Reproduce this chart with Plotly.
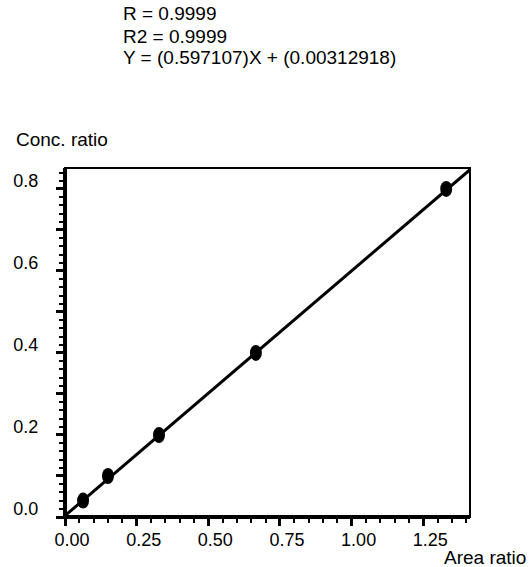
import plotly.graph_objects as go

# Calibration standards: area ratio (x) vs concentration ratio (y)
area_ratio = [0.063, 0.150, 0.328, 0.666, 1.330]
conc_ratio = [0.04, 0.10, 0.20, 0.40, 0.80]

# Linear regression results
slope = 0.597107
intercept = 0.00312918
r_value = "0.9999"
r2_value = "0.9999"

x_ticks = [0.0, 0.25, 0.50, 0.75, 1.00, 1.25]
x_tick_text = ["0.00", "0.25", "0.50", "0.75", "1.00", "1.25"]
y_ticks = [0.0, 0.1, 0.2, 0.3, 0.4, 0.5, 0.6, 0.7, 0.8]
y_tick_text = ["0.0", "", "0.2", "", "0.4", "", "0.6", "", "0.8"]

X_MAX = 1.413
Y_MAX = 0.851

W, H = 529, 567
ML, MR, MT, MB = 65, 59, 168, 50
PW, PH = W - ML - MR, H - MT - MB

FONT = "Liberation Sans, Arial, sans-serif"


def px_x(px):
    return (px - ML) / PW


def px_y(py):
    return (H - MB - py) / PH


fig = go.Figure()

# Fitted line across the full x range
fit_x = [0.0, X_MAX]
fit_y = [slope * v + intercept for v in fit_x]
fig.add_trace(go.Scatter(x=fit_x, y=fit_y, mode="lines",
                         line=dict(color="black", width=3),
                         hoverinfo="skip", showlegend=False))

# Invisible point trace for hover
fig.add_trace(go.Scatter(x=area_ratio, y=conc_ratio, mode="markers",
                         marker=dict(size=12, color="rgba(0,0,0,0)"),
                         showlegend=False))

shapes = []
# Elliptical markers anchored at each data point
for xv, yv in zip(area_ratio, conc_ratio):
    shapes.append(dict(type="circle", xref="x", yref="y",
                       xsizemode="pixel", ysizemode="pixel",
                       xanchor=xv, yanchor=yv,
                       x0=-6, x1=6, y0=-8, y1=8,
                       fillcolor="black", line=dict(color="black", width=0)))

# Frame: thin box with heavier left and bottom axes
shapes.append(dict(type="rect", xref="paper", yref="paper",
                   x0=0, x1=1, y0=0, y1=1,
                   line=dict(color="black", width=2)))
shapes.append(dict(type="line", xref="paper", yref="paper",
                   x0=0, x1=0, y0=0, y1=1,
                   line=dict(color="black", width=4)))
shapes.append(dict(type="line", xref="paper", yref="paper",
                   x0=0, x1=1, y0=0, y1=0,
                   line=dict(color="black", width=4)))

annotations = []
for text, ypx in [(f"R = {r_value}", 13),
                  (f"R2 = {r2_value}", 36),
                  (f"Y = ({slope})X + ({intercept})", 58)]:
    annotations.append(dict(text=text, xref="paper", yref="paper",
                            x=px_x(121), y=px_y(ypx), xanchor="left",
                            yanchor="middle", showarrow=False,
                            font=dict(family=FONT, size=19, color="black")))
annotations.append(dict(text="Conc. ratio", xref="paper", yref="paper",
                        x=px_x(14), y=px_y(140), xanchor="left",
                        yanchor="middle", showarrow=False,
                        font=dict(family=FONT, size=19, color="black")))
annotations.append(dict(text="Area ratio", xref="paper", yref="paper",
                        x=px_x(528), y=px_y(557), xanchor="right",
                        yanchor="middle", showarrow=False,
                        font=dict(family=FONT, size=19, color="black")))

fig.update_layout(
    width=W, height=H,
    margin=dict(l=ML, r=MR, t=MT, b=MB, pad=0),
    paper_bgcolor="white", plot_bgcolor="white",
    showlegend=False,
    shapes=shapes,
    annotations=annotations,
    font=dict(family=FONT, size=18, color="black"),
    xaxis=dict(range=[0, X_MAX], showgrid=False, zeroline=False,
               showline=False, tickmode="array", tickvals=x_ticks,
               ticktext=x_tick_text, ticks="outside", ticklen=8,
               tickwidth=3, tickcolor="black", ticklabelshift=7,
               ticklabelstandoff=-2,
               minor=dict(dtick=0.05, tick0=0, ticks="outside", ticklen=5,
                          tickwidth=2, tickcolor="black", showgrid=False),
               tickfont=dict(family=FONT, size=18, color="black")),
    yaxis=dict(range=[0, Y_MAX], showgrid=False, zeroline=False,
               showline=False, tickmode="array", tickvals=y_ticks,
               ticktext=y_tick_text, ticks="outside", ticklen=8,
               tickwidth=3, tickcolor="black", ticklabelshift=-8,
               ticklabelstandoff=14,
               minor=dict(dtick=0.02, tick0=0, ticks="outside", ticklen=5,
                          tickwidth=2, tickcolor="black", showgrid=False),
               tickfont=dict(family=FONT, size=18, color="black")),
)

fig.write_html("out.html")
